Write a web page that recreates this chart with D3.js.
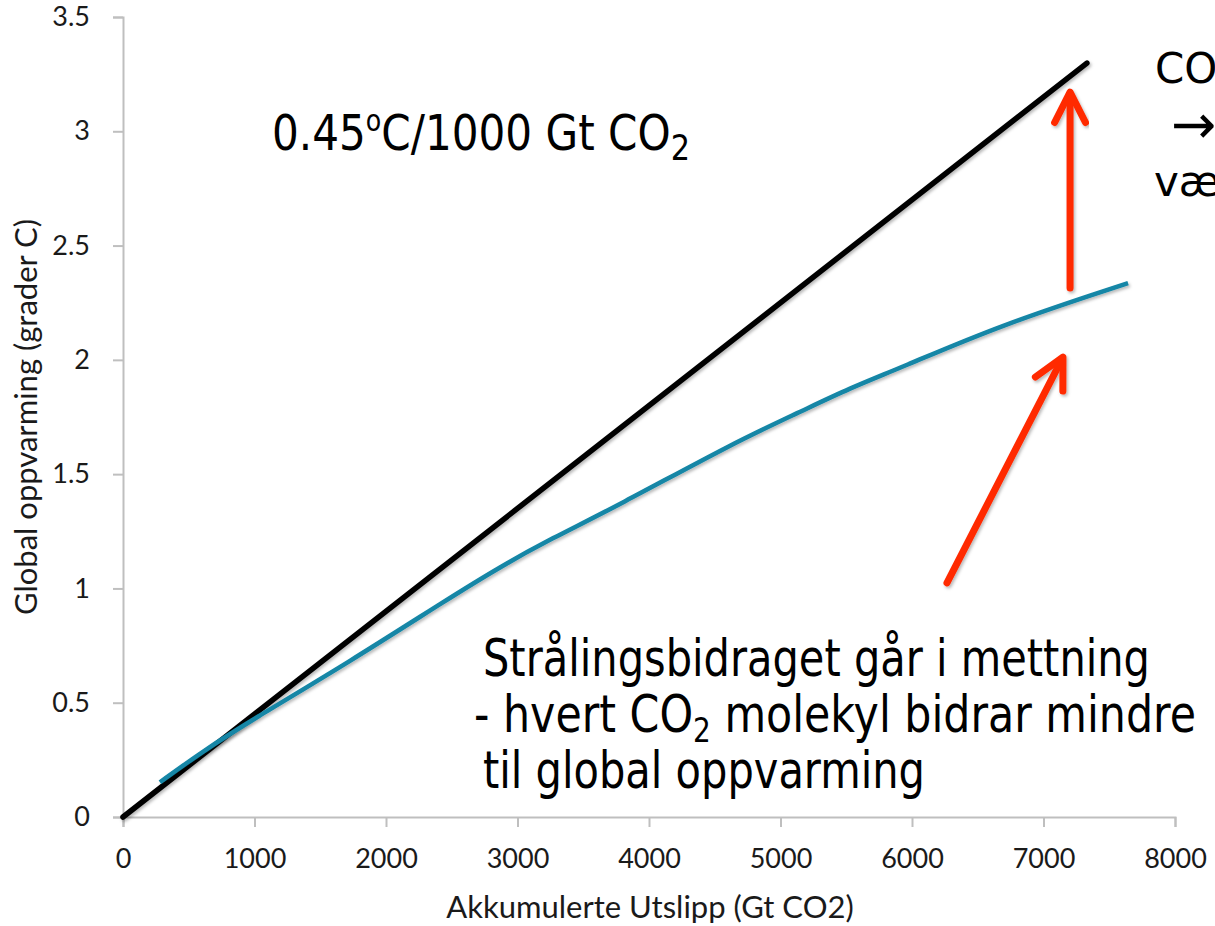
<!DOCTYPE html>
<html><head><meta charset="utf-8">
<script src="https://cdn.jsdelivr.net/npm/d3@7"></script>
<style>html,body{margin:0;padding:0;background:#fff}svg{display:block}</style>
</head><body>
<script>
// ---- data ----
const xTickValues = [0, 1000, 2000, 3000, 4000, 5000, 6000, 7000, 8000];
const yTickValues = [0, 0.5, 1, 1.5, 2, 2.5, 3, 3.5];
const linearX = [0, 7330];
const linearY = [0, 3.2985];
const satX = [281, 600, 966, 1726, 2487, 2867, 3247, 3757, 4639, 5148, 5529, 5909, 6669, 7643];
const satY = [0.152, 0.285, 0.42, 0.68, 0.96, 1.094, 1.215, 1.36, 1.636, 1.772, 1.877, 1.964, 2.152, 2.336];
const arrowUp = [[7202, 2.314], [7202, 3.171]];
const arrowDiag = [[6266, 1.024], [7148, 2.012]];
const xTitle = "Akkumulerte Utslipp (Gt CO2)";
const yTitle = "Global oppvarming (grader C)";

const W = 1215, H = 926;
const svg = d3.select("body").append("svg").attr("width", W).attr("height", H);
const defs = svg.append("defs");
const f = defs.append("filter").attr("id", "sh").attr("x", "-10%").attr("y", "-10%").attr("width", "120%").attr("height", "120%");
f.append("feDropShadow").attr("dx", 1.5).attr("dy", 2).attr("stdDeviation", 1.5).attr("flood-color", "#000").attr("flood-opacity", 0.28);

const x = d3.scaleLinear().domain([0, 8000]).range([123, 1175]);
const y = d3.scaleLinear().domain([0, 3.5]).range([817, 17]);

const axisFont = "Lato, 'Open Sans', sans-serif";
// axes
const gx = svg.append("g").attr("transform", `translate(0,${y(0)})`)
  .call(d3.axisBottom(x).tickValues(xTickValues).tickSize(10).tickPadding(22).tickFormat(d3.format("d")));
const gy = svg.append("g").attr("transform", `translate(${x(0)},0)`)
  .call(d3.axisLeft(y).tickValues(yTickValues).tickSize(10).tickPadding(23).tickFormat(d => String(d)));
[gx, gy].forEach(g => {
  g.select(".domain").attr("stroke", "#bfbfbf").attr("stroke-width", 2);
  g.selectAll(".tick line").attr("stroke", "#bfbfbf").attr("stroke-width", 2);
  g.selectAll(".tick text").attr("fill", "#1a1a1a").style("font-family", axisFont).style("font-size", "27px");
});

svg.append("text").attr("x", 650).attr("y", 918).attr("text-anchor", "middle")
  .style("font-family", axisFont).style("font-size", "31px").attr("fill", "#1a1a1a").text(xTitle);
svg.append("text").attr("transform", "translate(37,417) rotate(-90)").attr("text-anchor", "middle")
  .style("font-family", axisFont).style("font-size", "31px").attr("fill", "#1a1a1a").text(yTitle);

// lines
const line = d3.line().x(d => x(d[0])).y(d => y(d[1]));
svg.append("path").datum(linearX.map((v, i) => [v, linearY[i]]))
  .attr("d", line).attr("fill", "none").attr("stroke", "#000").attr("stroke-width", 5.5)
  .attr("stroke-linecap", "round").attr("filter", "url(#sh)");
svg.append("path").datum(satX.map((v, i) => [v, satY[i]]))
  .attr("d", line.curve(d3.curveBasis)).attr("fill", "none").attr("stroke", "#1386a6").attr("stroke-width", 4.5)
  .attr("stroke-linecap", "butt").attr("filter", "url(#sh)");

// arrows
function arrow(pts) {
  const [x0, y0] = [x(pts[0][0]), y(pts[0][1])];
  const [x1, y1] = [x(pts[1][0]), y(pts[1][1])];
  const a = Math.atan2(y0 - y1, x0 - x1);
  const L = 34, h = 27 * Math.PI / 180;
  const w1 = [x1 + L * Math.cos(a + h), y1 + L * Math.sin(a + h)];
  const w2 = [x1 + L * Math.cos(a - h), y1 + L * Math.sin(a - h)];
  const g = svg.append("g").attr("filter", "url(#sh)")
    .attr("stroke", "#ff2a00").attr("stroke-width", 7).attr("stroke-linecap", "round").attr("stroke-linejoin", "round").attr("fill", "none");
  g.append("path").attr("d", d3.line()([[x0, y0], [x1 + 3 * Math.cos(a), y1 + 3 * Math.sin(a)]]));
  g.append("path").attr("d", d3.line()([w1, [x1, y1], w2]));
}
arrow(arrowUp);
arrow(arrowDiag);

// annotations
const annFont = "'DejaVu Sans', Verdana, sans-serif";
const t1 = svg.append("text").attr("x", 272).attr("y", 150).attr("textLength", 418).attr("lengthAdjust", "spacingAndGlyphs")
  .style("font-family", annFont).style("font-size", "50px").attr("fill", "#000");
t1.append("tspan").text("0.45");
t1.append("tspan").attr("dy", -19).style("font-size", "30px").text("o");
t1.append("tspan").attr("dy", 19).text("C/1000 Gt CO");
t1.append("tspan").attr("dy", 10).style("font-size", "36px").text("2");

svg.append("text").attr("x", 1155).attr("y", 83).style("font-family", annFont).style("font-size", "42px").attr("fill", "#000").text("CO");
svg.append("text").attr("x", 1171).attr("y", 143).style("font-family", annFont).style("font-size", "54px").attr("fill", "#000").text("\u2192");
svg.append("text").attr("x", 1154).attr("y", 196).style("font-family", annFont).style("font-size", "42px").attr("fill", "#000").text("væ");

svg.append("text").attr("x", 483).attr("y", 676).attr("textLength", 667).attr("lengthAdjust", "spacingAndGlyphs")
  .style("font-family", annFont).style("font-size", "52px").attr("fill", "#000").text("Strålingsbidraget går i mettning");
const l2 = svg.append("text").attr("x", 474).attr("y", 732).attr("textLength", 722).attr("lengthAdjust", "spacingAndGlyphs")
  .style("font-family", annFont).style("font-size", "52px").attr("fill", "#000");
l2.append("tspan").text("- hvert CO");
l2.append("tspan").attr("dy", 10).style("font-size", "34px").text("2");
l2.append("tspan").attr("dy", -10).text(" molekyl bidrar mindre");
svg.append("text").attr("x", 483).attr("y", 788).attr("textLength", 442).attr("lengthAdjust", "spacingAndGlyphs")
  .style("font-family", annFont).style("font-size", "52px").attr("fill", "#000").text("til global oppvarming");
</script>
</body></html>
